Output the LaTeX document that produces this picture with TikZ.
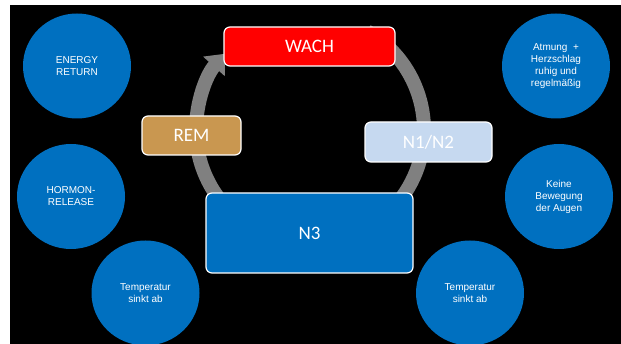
\documentclass[tikz,border=0pt]{standalone}
\usepackage{fontspec}
\setmainfont{Liberation Sans}
\newfontfamily\boxfont{Carlito}
\usetikzlibrary{arrows.meta,shapes.geometric}
\definecolor{sleepblue}{RGB}{0,112,192}
\definecolor{wachred}{RGB}{255,0,0}
\definecolor{remtan}{RGB}{201,151,80}
\definecolor{lightphase}{RGB}{198,217,240}
\definecolor{ringgray}{RGB}{128,128,128}
\tikzset{
  >=latex,
  {phase/.style} ={rectangle, rounded corners=6pt, draw=white, line width=1.2pt,
                  text=white, font=\boxfont\fontsize{19}{22}\selectfont,
                  fill=#1, minimum height=39pt},
  phase/.default = sleepblue,
  {fact/.style} ={ellipse, fill=sleepblue, text=white, align=center,
                  minimum width=108pt, minimum height=105pt, inner sep=0pt,
                  font=\fontsize{10}{12}\selectfont},
  {ring/.style} ={draw=ringgray, line width=14pt,
                  -{Triangle[width=28pt,length=17pt]}},
}

\begin{document}
\begin{tikzpicture}[x=1pt,y=1pt]
\useasboundingbox (0,0) rectangle (621,-344);
\fill[black] (10,-5) rectangle (621,-344);
% cycle arrow behind the phases
\coordinate (hub) at (310,-130);
\draw[ring] (hub) ++(60:114pt) arc[start angle=60, end angle=-222, radius=114pt];
% sleep phases
\node[phase=wachred, minimum width=171pt] (wach) at (309.5,-46.5) {WACH};
\node[phase=remtan, minimum width=99pt] (rem) at (191.5,-135.5) {REM};
\node[phase=lightphase, minimum width=127pt, minimum height=40pt] (light) at (428.5,-142) {N1/N2};
\node[phase, minimum width=207pt, minimum height=80pt] (deep) at (309.5,-233) {N3};
% facts
\node[fact] (energy) at (77,-66) {ENERGY\\RETURN};
\node[fact] (hormon) at (71,-196.5) {HORMON-\\RELEASE};
\node[fact] (templeft) at (145.5,-293) {Temperatur\\sinkt ab};
\node[fact] (breath) at (556,-66) {Atmung\ \ +\\Herzschlag\\ruhig und\\regelmäßig};
\node[fact] (eyes) at (559,-196.5) {Keine\\Bewegung\\der Augen};
\node[fact] (tempright) at (470,-293) {Temperatur\\sinkt ab};
\end{tikzpicture}
\end{document}
